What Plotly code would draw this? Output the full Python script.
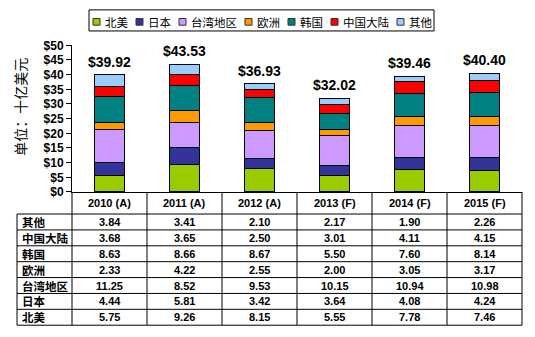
import plotly.graph_objects as go

# Semiconductor revenue by region, billions of USD
years = ["2010 (A)", "2011 (A)", "2012 (A)", "2013 (F)", "2014 (F)", "2015 (F)"]
north_america = [5.75, 9.26, 8.15, 5.55, 7.78, 7.46]
japan = [4.44, 5.81, 3.42, 3.64, 4.08, 4.24]
taiwan = [11.25, 8.52, 9.53, 10.15, 10.94, 10.98]
europe = [2.33, 4.22, 2.55, 2.00, 3.05, 3.17]
korea = [8.63, 8.66, 8.67, 5.50, 7.60, 8.14]
china = [3.68, 3.65, 2.50, 3.01, 4.11, 4.15]
others = [3.84, 3.41, 2.10, 2.17, 1.90, 2.26]
totals = [39.92, 43.53, 36.93, 32.02, 39.46, 40.40]

series_names = ["北美", "日本", "台湾地区", "欧洲", "韩国", "中国大陆", "其他"]
series_values = [north_america, japan, taiwan, europe, korea, china, others]
series_colors = ["#99CC00", "#333399", "#CC99FF", "#FF9900", "#008080", "#FF0000", "#99CCFF"]

W, H = 535, 337
LATIN = "Liberation Sans, Arial, Noto Sans CJK SC, sans-serif"
CJK = "Noto Sans CJK SC, sans-serif"


def px_x(p):
    return p / W


def px_y(p):
    return 1 - p / H


# plot area geometry (pixels)
PLOT_L, PLOT_R = 72, 522
PLOT_T, PLOT_B = 40, 193
TABLE_L = 17
HEADER_B = 216
TABLE_B = 332

fig = go.Figure()
for name, vals, col in zip(series_names, series_values, series_colors):
    fig.add_trace(go.Bar(
        x=years, y=vals, name=name, width=0.4,
        marker=dict(color=col, line=dict(color="#000000", width=1)),
        showlegend=False, hoverinfo="x+y+name",
    ))

annotations = []
shapes = []

# totals above each stack
for yr, tot in zip(years, totals):
    annotations.append(dict(
        x=yr, y=tot, xref="x", yref="y", text=f"${tot:.2f}",
        showarrow=False, yanchor="bottom", yshift=3,
        font=dict(family=LATIN, size=14, color="#000000", weight="bold"),
    ))

# y-axis title
annotations.append(dict(
    x=px_x(20), y=px_y(104), xref="paper", yref="paper", text="单位：十亿美元",
    textangle=-90, showarrow=False, xanchor="center", yanchor="middle",
    font=dict(family=CJK, size=14, color="#000000"),
))

# data table: header row of years
for yr in years:
    annotations.append(dict(
        x=yr, y=px_y((PLOT_B + HEADER_B) / 2), xref="x", yref="paper", text=yr,
        showarrow=False, xanchor="center", yanchor="middle",
        font=dict(family=LATIN, size=11, color="#000000", weight="bold"),
    ))

n_rows = len(series_names)
row_h = (TABLE_B - HEADER_B) / n_rows
table_rows = list(zip(series_names, series_values))[::-1]
for i, (name, vals) in enumerate(table_rows):
    cy = HEADER_B + row_h * (i + 0.5)
    annotations.append(dict(
        x=px_x(TABLE_L + 3), y=px_y(cy), xref="paper", yref="paper", text=name,
        showarrow=False, xanchor="left", yanchor="middle",
        font=dict(family=CJK, size=11.5, color="#000000", weight="bold"),
    ))
    for yr, v in zip(years, vals):
        annotations.append(dict(
            x=yr, y=px_y(cy), xref="x", yref="paper", text=f"{v:.2f}",
            showarrow=False, xanchor="center", yanchor="middle",
            font=dict(family=LATIN, size=11, color="#000000", weight="bold"),
        ))

line = dict(color="#000000", width=1)
# horizontal table rules
for i in range(n_rows + 1):
    y = HEADER_B + row_h * i
    shapes.append(dict(type="line", xref="paper", yref="paper",
                       x0=px_x(TABLE_L), x1=px_x(PLOT_R), y0=px_y(y), y1=px_y(y), line=line))
# vertical rules
col_w = (PLOT_R - PLOT_L) / len(years)
shapes.append(dict(type="line", xref="paper", yref="paper",
                   x0=px_x(TABLE_L), x1=px_x(TABLE_L), y0=px_y(HEADER_B), y1=px_y(TABLE_B), line=line))
for j in range(len(years) + 1):
    x = PLOT_L + col_w * j
    shapes.append(dict(type="line", xref="paper", yref="paper",
                       x0=px_x(x), x1=px_x(x), y0=px_y(PLOT_B), y1=px_y(TABLE_B), line=line))

# legend box
LEG_L, LEG_R, LEG_T, LEG_B = 89, 434, 3, 25
shapes.append(dict(type="rect", xref="paper", yref="paper",
                   x0=px_x(LEG_L), x1=px_x(LEG_R), y0=px_y(LEG_T), y1=px_y(LEG_B),
                   line=line, fillcolor="#FFFFFF"))
cx = 93
leg_cy = 15.5
char_w = 11.5
for name, col in zip(series_names, series_colors):
    shapes.append(dict(type="rect", xref="paper", yref="paper",
                       x0=px_x(cx), x1=px_x(cx + 7), y0=px_y(leg_cy - 3.5), y1=px_y(leg_cy + 3.5),
                       line=dict(color="#333333", width=1), fillcolor=col))
    annotations.append(dict(
        x=px_x(cx + 10), y=px_y(leg_cy), xref="paper", yref="paper", text=name,
        showarrow=False, xanchor="left", yanchor="middle",
        font=dict(family=CJK, size=11.5, color="#000000"),
    ))
    cx += 7 + 5 + char_w * len(name) + 8

fig.update_layout(
    width=W, height=H, barmode="stack",
    margin=dict(l=0, r=0, t=0, b=0),
    paper_bgcolor="#FFFFFF", plot_bgcolor="#FFFFFF",
    xaxis=dict(domain=[px_x(PLOT_L), px_x(PLOT_R)], showticklabels=False,
               showline=True, linecolor="#000000", linewidth=1, ticks="",
               showgrid=False, zeroline=False, fixedrange=True),
    yaxis=dict(domain=[px_y(PLOT_B), px_y(PLOT_T)], range=[0, 50], dtick=5, tick0=0,
               tickprefix="$", showline=True, linecolor="#000000", linewidth=1,
               ticks="outside", ticklen=5, tickcolor="#000000",
               tickfont=dict(family=LATIN, size=12, color="#000000", weight="bold"),
               showgrid=False, zeroline=False, fixedrange=True),
    annotations=annotations, shapes=shapes,
    bargap=0.6,
)

fig.write_html("out.html")
